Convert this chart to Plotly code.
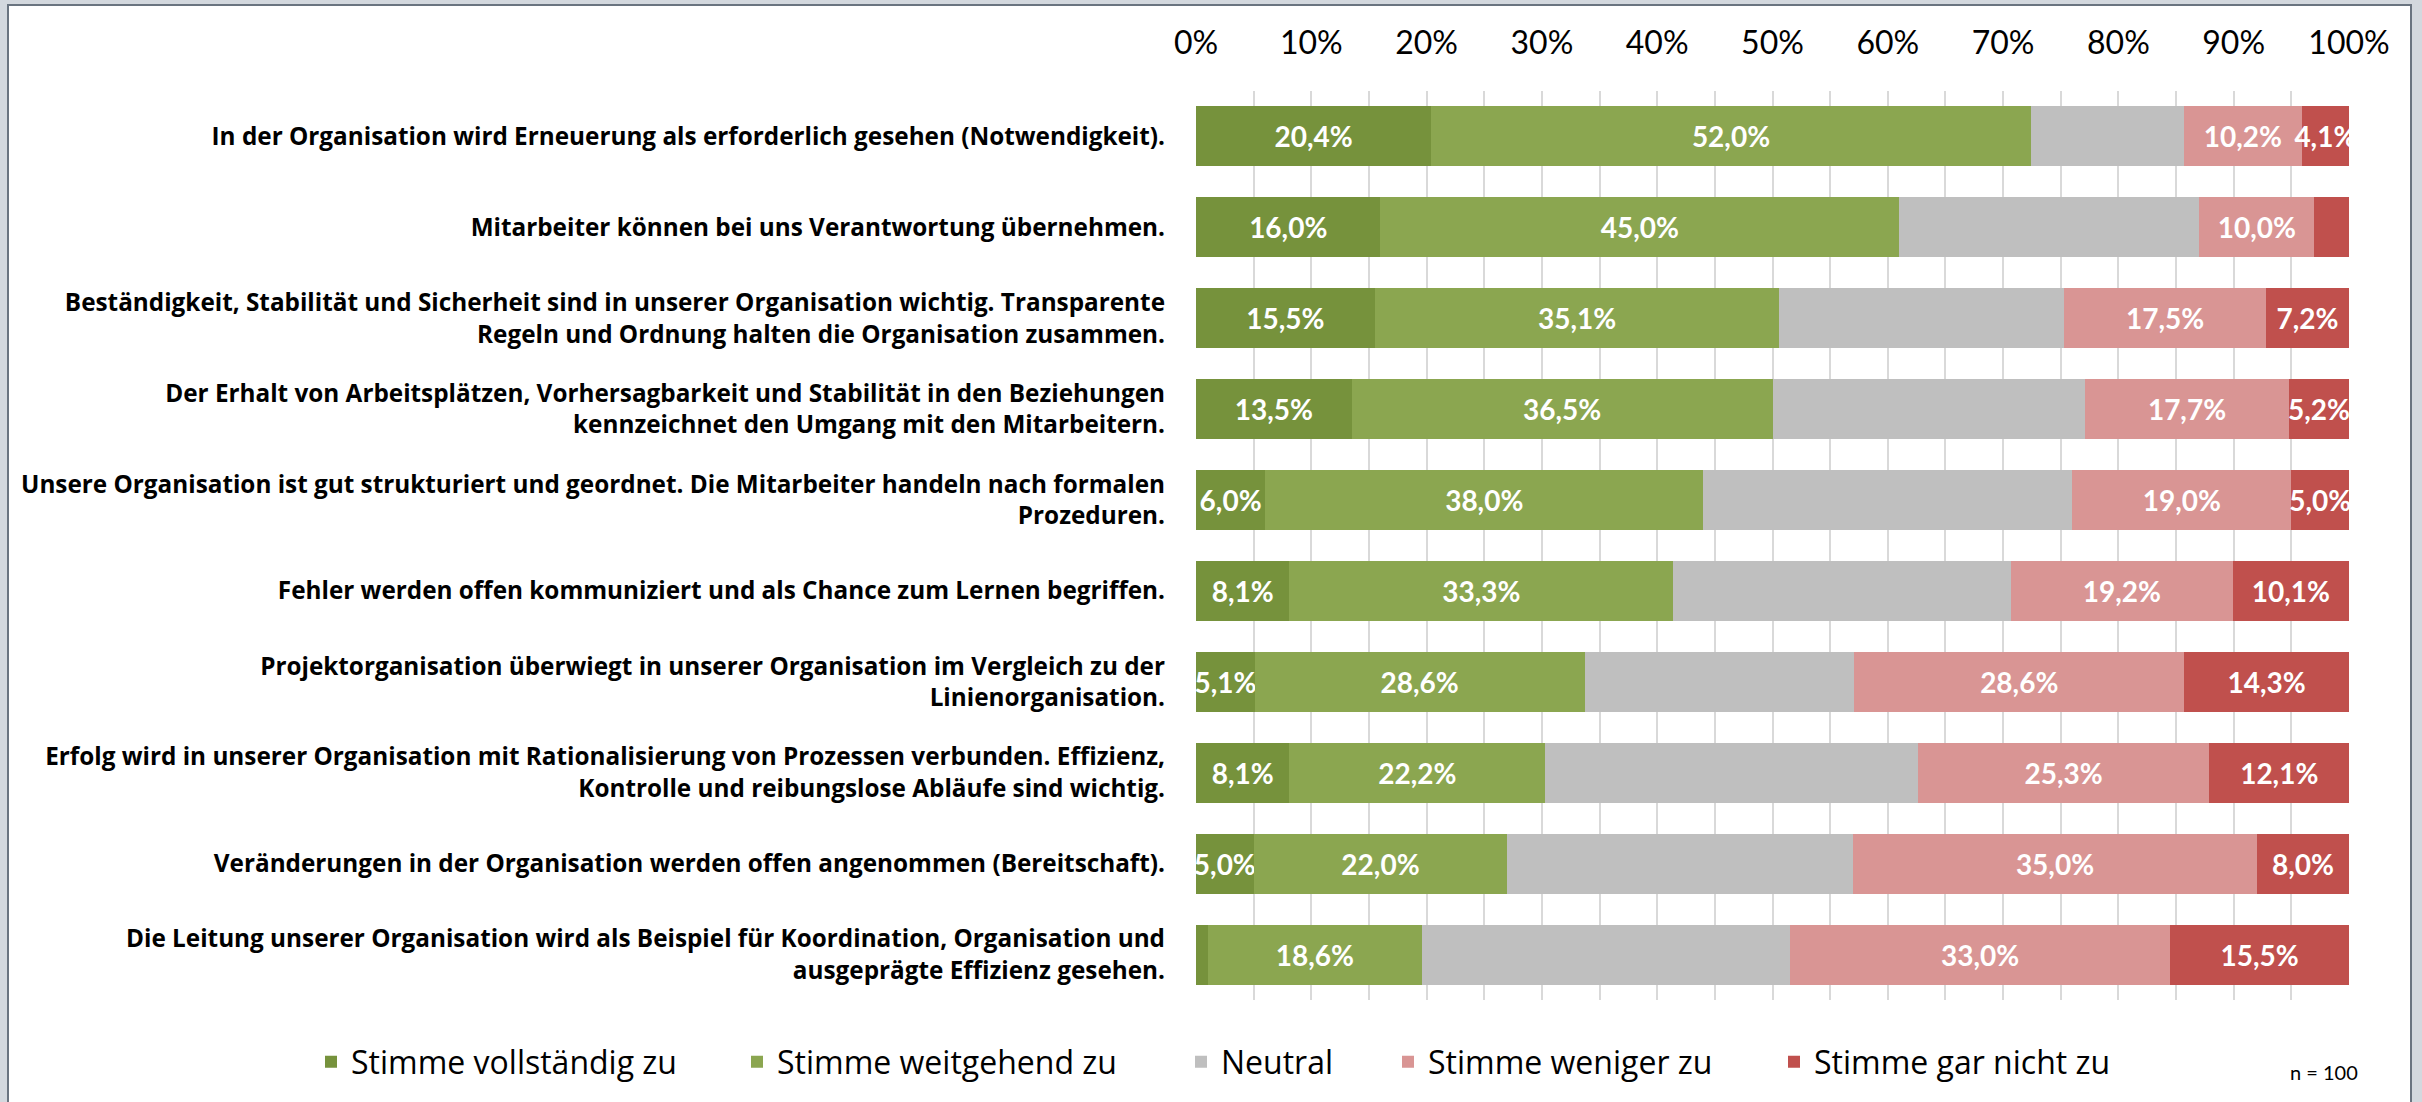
import plotly.graph_objects as go

categories = [
    "In der Organisation wird Erneuerung als erforderlich gesehen (Notwendigkeit).",
    "Mitarbeiter können bei uns Verantwortung übernehmen.",
    "Beständigkeit, Stabilität und Sicherheit sind in unserer Organisation wichtig. Transparente<br>Regeln und Ordnung halten die Organisation zusammen.",
    "Der Erhalt von Arbeitsplätzen, Vorhersagbarkeit und Stabilität in den Beziehungen<br>kennzeichnet den Umgang mit den Mitarbeitern.",
    "Unsere Organisation ist gut strukturiert und geordnet. Die Mitarbeiter handeln nach formalen<br>Prozeduren.",
    "Fehler werden offen kommuniziert und als Chance zum Lernen begriffen.",
    "Projektorganisation überwiegt in unserer Organisation im Vergleich zu der<br>Linienorganisation.",
    "Erfolg wird in unserer Organisation mit Rationalisierung von Prozessen verbunden. Effizienz,<br>Kontrolle und reibungslose Abläufe sind wichtig.",
    "Veränderungen in der Organisation werden offen angenommen (Bereitschaft).",
    "Die Leitung unserer Organisation wird als Beispiel für Koordination, Organisation und<br>ausgeprägte Effizienz gesehen.",
]

series_names = ["Stimme vollständig zu", "Stimme weitgehend zu", "Neutral",
                "Stimme weniger zu", "Stimme gar nicht zu"]

voll = [20.4, 16.0, 15.5, 13.5, 6.0, 8.1, 5.1, 8.1, 5.0, 1.0]
weit = [52.0, 45.0, 35.1, 36.5, 38.0, 33.3, 28.6, 22.2, 22.0, 18.6]
neutral = [13.3, 26.0, 24.7, 27.1, 32.0, 29.3, 23.4, 32.3, 30.0, 31.9]
weniger = [10.2, 10.0, 17.5, 17.7, 19.0, 19.2, 28.6, 25.3, 35.0, 33.0]
garnicht = [4.1, 3.0, 7.2, 5.2, 5.0, 10.1, 14.3, 12.1, 8.0, 15.5]

# which values carry a data label in the original
label_voll = [True] * 9 + [False]
label_weit = [True] * 10
label_neutral = [False] * 10
label_weniger = [True] * 10
label_garnicht = [True, False] + [True] * 8

colors = ["#76923C", "#8BA650", "#BFBFBF", "#D99594", "#C0504D"]

tick_vals = [0, 10, 20, 30, 40, 50, 60, 70, 80, 90, 100]
tick_text = ["0%", "10%", "20%", "30%", "40%", "50%", "60%", "70%", "80%", "90%", "100%"]

W, H = 2422, 1102
ML, MR, MT, MB = 1196, 73, 91, 102

# left edge (px) of each legend entry
legend_left_px = [311, 737, 1181, 1388, 1774]

def fmt(v, show):
    return (f"{v:.1f}".replace(".", ",") + "%") if show else ""

plot_w = W - ML - MR
plot_h = H - MT - MB

def px_to_paper_x(px):
    return (px - ML) / plot_w

def px_to_paper_y(py):
    return (H - MB - py) / plot_h

legend_ids = ["legend", "legend2", "legend3", "legend4", "legend5"]

fig = go.Figure()
for name, vals, labs, col, lid in zip(
        series_names,
        [voll, weit, neutral, weniger, garnicht],
        [label_voll, label_weit, label_neutral, label_weniger, label_garnicht],
        colors, legend_ids):
    fig.add_trace(go.Bar(
        name=name,
        y=categories,
        x=vals,
        orientation="h",
        legend=lid,
        marker=dict(color=col, line=dict(width=0)),
        text=[fmt(v, s) for v, s in zip(vals, labs)],
        textposition="inside",
        insidetextanchor="middle",
        textangle=0,
        textfont=dict(family="Lato", size=28, color="white", weight="bold"),
        cliponaxis=True,
        hoverinfo="skip",
    ))

legend_layout = {}
for lid, lx in zip(legend_ids, legend_left_px):
    legend_layout[lid] = dict(
        orientation="h",
        xref="paper", yref="paper",
        x=px_to_paper_x(lx), xanchor="left",
        y=px_to_paper_y(1062), yanchor="middle",
        font=dict(family="Open Sans", size=32, color="black"),
        bgcolor="rgba(0,0,0,0)",
    )

fig.update_layout(
    width=W, height=H,
    margin=dict(l=ML, r=MR, t=MT, b=MB, pad=0),
    barmode="stack",
    bargap=0.34,
    paper_bgcolor="#d3d8de",
    plot_bgcolor="white",
    uniformtext=dict(minsize=28, mode="show"),
    font=dict(family="Lato", color="black"),
    showlegend=True,
    xaxis=dict(
        side="top",
        range=[0, 100],
        tickvals=tick_vals,
        ticktext=tick_text,
        tickfont=dict(family="Lato", size=32, color="black"),
        showgrid=True, gridcolor="#D9D9D9", gridwidth=2,
        minor=dict(dtick=5, showgrid=True, gridcolor="#D9D9D9", gridwidth=2),
        zeroline=False, showline=False,
        ticks="", ticklabelstandoff=30,
        fixedrange=True,
    ),
    yaxis=dict(
        autorange="reversed",
        tickfont=dict(family="Open Sans", size=24.3, color="black", weight="bold"),
        ticks="", ticklabelstandoff=30,
        showgrid=False, zeroline=False, showline=False,
        automargin=False,
    ),
    shapes=[dict(
        type="rect", xref="paper", yref="paper", layer="below",
        x0=px_to_paper_x(8), x1=px_to_paper_x(2411),
        y0=px_to_paper_y(H + 5), y1=px_to_paper_y(5),
        fillcolor="white", line=dict(color="#6a7480", width=2),
    )],
    annotations=[dict(
        text="n = 100", xref="paper", yref="paper",
        x=px_to_paper_x(2360), y=px_to_paper_y(1072),
        xanchor="right", yanchor="middle", showarrow=False,
        font=dict(family="Lato", size=20, color="black"),
    )],
    **legend_layout,
)

fig.write_html(
    "out.html",
    config={"displayModeBar": False},
    post_script="document.body.style.margin='0';document.body.style.overflow='hidden';",
)
